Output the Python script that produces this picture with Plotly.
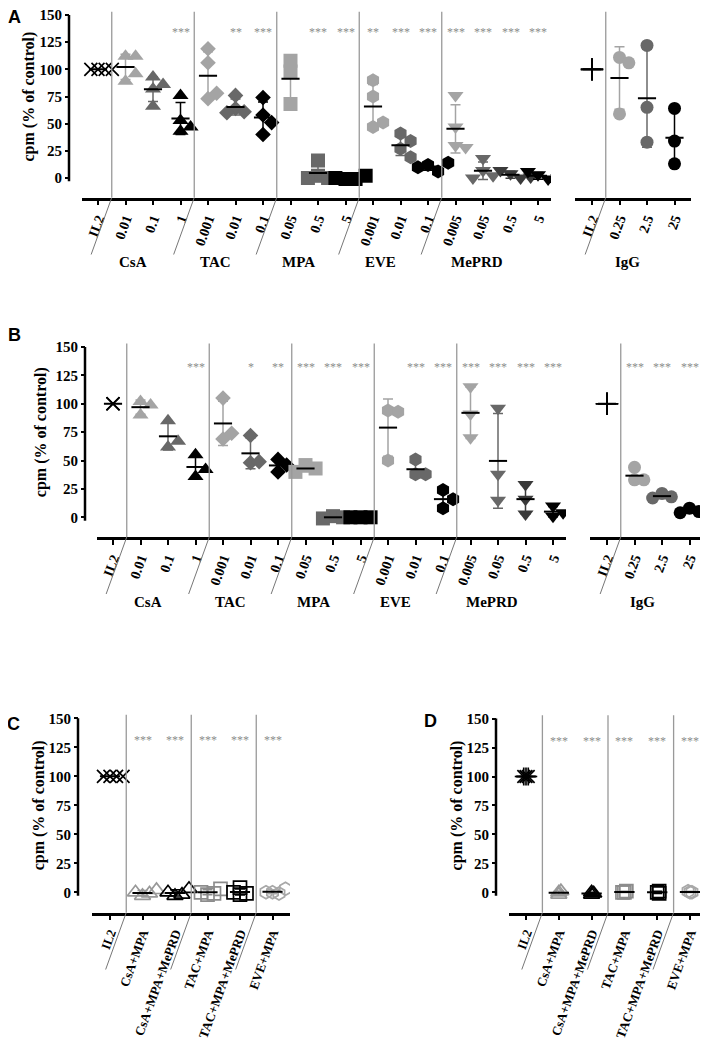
import numpy as np
import plotly.graph_objects as go

# the page puts the figure 8px in from the top-left corner
OFF = 8
W, H = 708 - OFF, 1040 - OFF
SERIF = "Liberation Serif"
SANS = "Liberation Sans"

LIGHT = "#a4a4a4"
MID = "#686868"
DARK = "#3a3a3a"
BLACK = "#000000"
SEP = "#999999"
STAR = "#8c8c8c"

# ---------------- data ----------------
# panel A
a_ticks = ["IL2", "0.01", "0.1", "1", "0.001", "0.01", "0.1", "0.05", "0.5", "5",
           "0.001", "0.01", "0.1", "0.005", "0.05", "0.5", "5"]
a_groups = ["CsA", "TAC", "MPA", "EVE", "MePRD"]
a_group_sizes = [3, 3, 3, 3, 4]
a_values = [
    [100, 100, 100, 100],
    [112, 112, 89, 96], [93, 86, 82, 66], [76, 53, 47, 43],
    [119, 106, 73, 78], [76, 64, 61, 60], [74, 58, 40, 51],
    [108, 98, 68], [16, 2, 0, 0], [-1, -1, 0, 2],
    [90, 75, 47, 51], [41, 34, 27, 19], [12, 6, 10, 14],
    [76, 47, 30, 28], [18, 7, 2, 0], [4, 0, 7, 1], [3, -1, 6, 0],
]
a_stars = ["", "", "", "***", "", "**", "***", "", "***", "***",
           "**", "***", "***", "***", "***", "***", "***"]
a_igg_ticks = ["IL2", "0.25", "2.5", "25"]
a_igg_values = [[100, 100, 100], [111, 106, 59], [122, 65, 33], [64, 34, 13]]
a_igg_stars = ["", "", "", ""]

# panel B
b_ticks = a_ticks
b_groups = a_groups
b_group_sizes = [3, 3, 3, 3, 4]
b_values = [
    [100, 100, 100],
    [102, 99, 90], [85, 62, 67], [55, 36, 42],
    [105, 69, 74], [72, 48, 49], [51, 46, 40],
    [46, 43, 40], [1, 0, -1], [0, 0, 0],
    [94, 93, 50], [51, 38, 38], [24, 16, 8],
    [115, 91, 70], [96, 38, 15], [29, 16, 3], [10, 4, 1],
]
b_stars = ["", "", "", "***", "", "*", "**", "***", "***", "***",
           "", "***", "***", "***", "***", "***", "***"]
b_igg_ticks = ["IL2", "0.25", "2.5", "25"]
b_igg_values = [[100, 100, 100], [44, 33, 33], [21, 18, 17], [8, 5, 4]]
b_igg_stars = ["", "***", "***", "***"]

# panels C and D
cd_ticks = ["IL2", "CsA+MPA", "CsA+MPA+MePRD", "TAC+MPA", "TAC+MPA+MePRD", "EVE+MPA"]
cd_group_sizes = [2, 2, 1]
c_values = [[100, 100, 100, 100], [-3, -1, 0, 2], [-3, -2, 0, 3],
            [-2, -1, 0, 3], [-2, -1, 0, 4], [0, -1, 0, 3]]
d_values = [[100, 100, 100], [-2, 0, 1], [-2, -1, 0],
            [0, 1, 0], [0, -1, 1], [0, 0, 1]]
cd_stars = ["", "***", "***", "***", "***", "***"]

# ---------------- styles ----------------
ab_symbols = (["x-thin-open"] + ["triangle-up"] * 3 + ["diamond"] * 3 + ["square"] * 3
              + ["hexagon"] * 3 + ["triangle-down"] * 4)
ab_colors = [BLACK] + [LIGHT, MID, BLACK] * 4 + [LIGHT, MID, DARK, BLACK]
igg_symbols = ["cross-thin-open", "circle", "circle", "circle"]
igg_colors = [BLACK, LIGHT, MID, BLACK]
c_symbols = ["x-thin-open", "triangle-up-open", "triangle-up-open", "square-open",
             "square-open", "hexagon-open"]
d_symbols = ["asterisk-open"] + c_symbols[1:]
cd_colors = [BLACK, "#999999", BLACK, "#8c8c8c", BLACK, "#a8a8a8"]
SIZES = {"x-thin-open": 13, "cross-thin-open": 16, "asterisk-open": 15,
         "triangle-up": 14, "triangle-down": 14, "diamond": 12, "square": 14,
         "hexagon": 14, "circle": 13, "triangle-up-open": 14, "square-open": 13,
         "hexagon-open": 13}

fig = go.Figure()
shapes = []
annos = []


# positions below are written in pixels of the 708x1040 picture
def px_x(p):
    return min(max((p - OFF) / W, 0), 1)


def px_y(p):
    return min(max(1 - (p - OFF) / H, 0), 1)


def y_axis(zero, top150, bottom, domtop, xpos):
    ppu = (zero - top150) / 150
    cfg = dict(domain=[px_y(bottom), px_y(domtop)],
               range=[(zero - bottom) / ppu, (zero - domtop) / ppu],
               anchor="free", position=px_x(xpos),
               tickvals=[0, 25, 50, 75, 100, 125, 150], ticks="outside",
               ticklen=4, tickwidth=2, tickcolor="black", showline=False,
               showgrid=False, zeroline=False, ticklabeloverflow="allow",
               tickfont=dict(family=SERIF, size=15, color="black", weight="bold"))
    return cfg, ppu


def x_axis(first, step, left, right, ticktext, yid, fsize=14):
    return dict(domain=[px_x(left), px_x(right)],
                range=[(left - first) / step, (right - first) / step],
                anchor=yid, tickvals=list(range(len(ticktext))), ticktext=ticktext,
                tickangle=-70, ticks="outside", ticklen=5, tickwidth=2,
                tickcolor="black", showline=True, linewidth=2.5, linecolor="black",
                showgrid=False, zeroline=False, ticklabeloverflow="allow",
                tickfont=dict(family=SERIF, size=fsize, color="black", weight="bold"))


def spread(values, ppu, size, frac):
    placed, offs = [], []
    d = size * frac
    for v in values:
        y = v * ppu
        o = 0
        if d > 0:
            for k in [0, 1, -1, 2, -2, 3, -3, 4, -4]:
                o = k * d
                if all(np.hypot(o - po, y - py) >= d * 0.999 for po, py in placed):
                    break
        placed.append((o, y))
        offs.append(o)
    return offs


def dotplot(xid, yid, values, symbols, colors, ppu, step, fracs, half):
    mx, my = [], []
    for i, vals in enumerate(values):
        sym, col = symbols[i], colors[i]
        size = SIZES[sym]
        offs = spread(vals, ppu, size, fracs[i])
        fig.add_trace(go.Scatter(
            x=[i + o / step for o in offs], y=vals, mode="markers",
            xaxis=xid, yaxis=yid, hoverinfo="skip",
            marker=dict(symbol=sym, size=size, color=col,
                        line=dict(color=col, width=1.7 if sym.endswith("open") else 0))))
        m = float(np.mean(vals))
        sd = float(np.std(vals, ddof=1))
        if sd > 0.5:
            fig.add_trace(go.Scatter(
                x=[i], y=[m], mode="markers", xaxis=xid, yaxis=yid, hoverinfo="skip",
                marker=dict(size=1, opacity=0),
                error_y=dict(type="data", array=[sd], color=col, thickness=1.5, width=5)))
        mx += [i - half, i + half, None]
        my += [m, m, None]
    fig.add_trace(go.Scatter(x=mx, y=my, mode="lines", xaxis=xid, yaxis=yid,
                             hoverinfo="skip", line=dict(color=BLACK, width=2)))


def text(x, y, xref, yref, s, font, angle=0):
    annos.append(dict(x=x, y=y, xref=xref, yref=yref, text=s, showarrow=False,
                      xanchor="center", yanchor="middle", textangle=angle, font=font))


def stars(xid, yid, marks, yval):
    for i, s in enumerate(marks):
        if s:
            text(i, yval, xid, yid, s, dict(family=SERIF, size=12, color=STAR))


def separators(xid, yid, seps, step, lo, bottom, top=153):
    for s in seps:
        shapes.append(dict(type="line", xref=xid, yref=yid, x0=s, x1=s, y0=lo, y1=top,
                           line=dict(color=SEP, width=1.3)))
        shapes.append(dict(type="line", xref=xid, yref="paper", x0=s, x1=s - 20.6 / step,
                           y0=px_y(bottom), y1=px_y(bottom + 57),
                           line=dict(color="#777777", width=1)))


def group_labels(xid, names, sizes, start, step, bottom):
    pos = start
    for name, n in zip(names, sizes):
        c = pos + (n - 1) / 2
        text(c - 20 / step, px_y(bottom + 64.5), xid, "paper", name,
             dict(family=SERIF, size=15, color="black", weight="bold"))
        pos += n


def seps_from(sizes, start):
    out, pos = [], start
    for n in sizes:
        out.append(pos - 0.5)
        pos += n
    return out


def y_frame(yid, xpos, zero, top150, letter, lpos, title_x):
    shapes.append(dict(type="line", xref="paper", yref=yid, x0=px_x(xpos), x1=px_x(xpos),
                       y0=-3, y1=150, line=dict(color="black", width=2.5)))
    text(px_x(title_x), px_y((zero + top150) / 2), "paper", "paper", "cpm (% of control)",
         dict(family=SERIF, size=16, color="black", weight="bold"), angle=-90)
    text(px_x(lpos[0]), px_y(lpos[1]), "paper", "paper", letter,
         dict(family=SANS, size=18, color="black", weight="bold"))


layout = dict(width=W, height=H, margin=dict(l=0, r=0, t=0, b=0, autoexpand=False),
              paper_bgcolor="white", plot_bgcolor="white", showlegend=False)

# ---- panel A ----
ya, ppu_a = y_axis(178, 15, 197.5, 8, 69)
layout["yaxis"] = ya
layout["xaxis"] = x_axis(98, 27.5, 82, 551, a_ticks, "y")
layout["xaxis2"] = x_axis(592, 27.5, 575, 691, a_igg_ticks, "y")
dotplot("x", "y", a_values, ab_symbols, ab_colors, ppu_a, 27.5, [0.55] + [0.72] * 16, 0.33)
dotplot("x2", "y", a_igg_values, igg_symbols, igg_colors, ppu_a, 27.5, [0, 0.72, 0.72, 0.72], 0.33)
stars("x", "y", a_stars, 134)
stars("x2", "y", a_igg_stars, 134)
separators("x", "y", seps_from(a_group_sizes, 1), 27.5, ya["range"][0], 197.5)
separators("x2", "y", [0.5], 27.5, ya["range"][0], 197.5)
group_labels("x", a_groups, a_group_sizes, 1, 27.5, 197.5)
group_labels("x2", ["IgG"], [3], 1, 27.5, 197.5)
y_frame("y", 69, 178, 15, "A", (14, 17), 28)

# ---- panel B ----
yb, ppu_b = y_axis(517.3, 347, 537, 342, 85)
layout["yaxis2"] = yb
layout["xaxis3"] = x_axis(113, 27.5, 97, 566, b_ticks, "y2")
layout["xaxis4"] = x_axis(607, 27.5, 590, 705, b_igg_ticks, "y2")
dotplot("x3", "y2", b_values, ab_symbols, ab_colors, ppu_b, 27.5, [0] + [0.72] * 16, 0.33)
dotplot("x4", "y2", b_igg_values, igg_symbols, igg_colors, ppu_b, 27.5, [0, 0.72, 0.72, 0.72], 0.33)
stars("x3", "y2", b_stars, 132)
stars("x4", "y2", b_igg_stars, 132)
separators("x3", "y2", seps_from(b_group_sizes, 1), 27.5, yb["range"][0], 537)
separators("x4", "y2", [0.5], 27.5, yb["range"][0], 537)
group_labels("x3", b_groups, b_group_sizes, 1, 27.5, 537)
group_labels("x4", ["IgG"], [3], 1, 27.5, 537)
y_frame("y2", 85, 517.3, 347, "B", (14, 335), 41)

# ---- panel C ----
yc, ppu_c = y_axis(892.3, 718.3, 912.5, 713, 78)
layout["yaxis3"] = yc
layout["xaxis5"] = x_axis(110, 32.5, 92, 290, cd_ticks, "y3", 13)
dotplot("x5", "y3", c_values, c_symbols, cd_colors, ppu_c, 32.5, [0.5] * 6, 0.31)
stars("x5", "y3", cd_stars, 131)
separators("x5", "y3", seps_from(cd_group_sizes, 1), 32.5, yc["range"][0], 912.5)
y_frame("y3", 78, 892.3, 718.3, "C", (13, 724), 39)

# ---- panel D ----
yd, ppu_d = y_axis(892.3, 718.6, 912.5, 713, 496)
layout["yaxis4"] = yd
layout["xaxis6"] = x_axis(526, 32.8, 509, 706, cd_ticks, "y4", 13)
dotplot("x6", "y4", d_values, d_symbols, cd_colors, ppu_d, 32.8, [0.15] * 6, 0.31)
stars("x6", "y4", cd_stars, 131)
separators("x6", "y4", seps_from(cd_group_sizes, 1), 32.8, yd["range"][0], 912.5)
y_frame("y4", 496, 892.3, 718.6, "D", (430, 721), 457)

layout["shapes"] = shapes
layout["annotations"] = annos
fig.update_layout(**layout)
fig.write_html("out.html")
